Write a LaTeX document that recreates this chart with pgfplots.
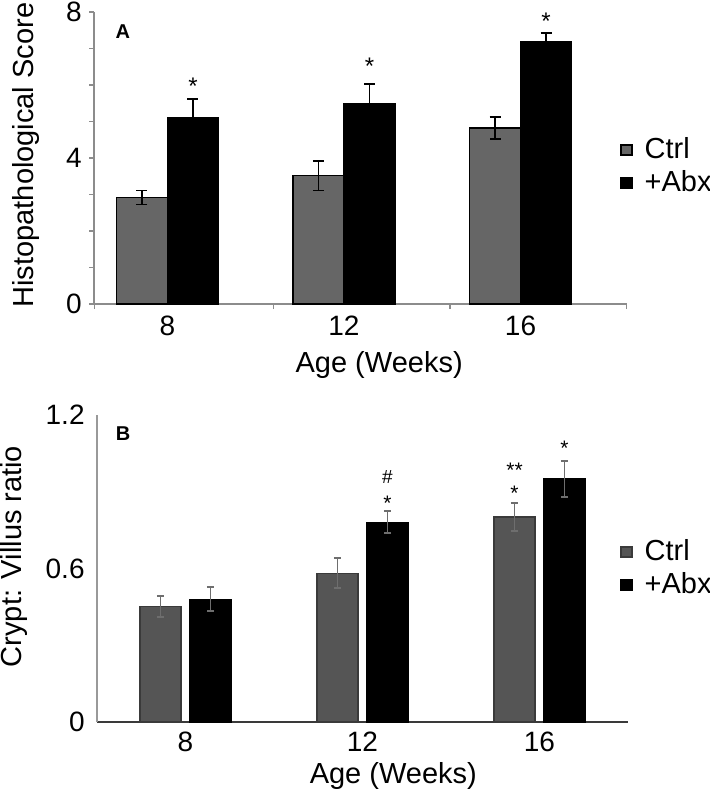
\documentclass[border=0pt]{standalone}
\usepackage{pgfplots}
\pgfplotsset{compat=1.18}
\usepackage{fontspec}
\setmainfont{Liberation Sans}
\definecolor{ctrlA}{HTML}{666666}
\definecolor{ctrlB}{HTML}{555555}
\definecolor{axA}{HTML}{8C8C8C}
\definecolor{axBy}{HTML}{999999}
\definecolor{axBx}{HTML}{3A3A3A}
\definecolor{errB}{HTML}{6E6E6E}
\pgfplotsset{
  sqlegend/.style={legend image code/.code={\draw[##1] (0pt,-2.5pt) rectangle (5.5pt,2.5pt);}},
  common/.style={
    scale only axis, anchor=south west, clip=false,
    axis lines*=left,
    /pgf/number format/assume math mode=true,
    tick label style={font=\fontsize{14}{16}\selectfont},
    label style={font=\fontsize{14.5}{17}\selectfont},
    xtick={0,1,2}, xticklabels={8,12,16},
    legend style={draw=none, fill=none, inner sep=0pt, anchor=west,
      font=\fontsize{14.5}{17}\selectfont, cells={anchor=west}, row sep=2pt,
      nodes={inner sep=1pt, text height=10.5pt, text depth=2pt},
      /tikz/every odd column/.append style={column sep=5pt}},
  },
}
\tikzset{
  starA/.style={font=\fontsize{12}{12}\selectfont, anchor=base, yshift=-6.9pt, inner sep=0pt},
  starB/.style={font=\fontsize{10.5}{11}\selectfont, anchor=base, yshift=-6.1pt, inner sep=0pt},
  hashB/.style={font=\fontsize{9.5}{11}\selectfont, anchor=base, yshift=-3.4pt, inner sep=0pt},
}
\begin{document}
\begin{tikzpicture}
\useasboundingbox (0,0) rectangle (354.5pt,-399.5pt);
% ---------------- Panel A ----------------
\begin{axis}[common,
  at={(47pt,-152pt)}, width=266.5pt, height=146pt,
  xmin=-0.416, xmax=2.603, ymin=0, ymax=8,
  ytick={0,4,8}, minor ytick={1,2,3,5,6,7},
  minor xtick={-0.415,0.6,1.6,2.602},
  tick align=outside, major tick length=2.5pt, minor tick length=2.5pt,
  major x tick style={draw=none},
  tick style={draw=axA, line width=0.6pt},
  axis line style={draw=axA, line width=0.8pt},
  yticklabel style={inner sep=3.5pt},
  xticklabel style={inner sep=3.5pt},
  ylabel={Histopathological Score},
  ylabel style={at={(rel axis cs:-0.1139,0.510)}, anchor=base},
  xlabel={Age (Weeks)},
  xlabel style={at={(rel axis cs:0.535,-0.233)}, anchor=base},
  legend style={at={(rel axis cs:0.987,0.471)}},
]
\addplot[ybar, bar width=0.289, bar shift=0pt, fill=ctrlA, draw=black, line width=0.6pt, sqlegend,
  error bars/.cd, y dir=both, y explicit,
  error bar style={black, line width=0.8pt},
  error mark options={rotate=90, mark size=2.75pt, black, line width=0.8pt}]
  coordinates {(-0.1445,2.92) +- (0,0.19) (0.8555,3.51) +- (0,0.40) (1.8555,4.82) +- (0,0.30)};
\addlegendentry{Ctrl}
\addplot[ybar, bar width=0.289, bar shift=0pt, fill=black, draw=black, line width=0.6pt, sqlegend,
  error bars/.cd, y dir=plus, y explicit,
  error bar style={black, line width=0.8pt},
  error mark options={rotate=90, mark size=2.75pt, black, line width=0.8pt}]
  coordinates {(0.1445,5.11) +- (0,0.51) (1.1445,5.48) +- (0,0.55) (2.1445,7.19) +- (0,0.23)};
\addlegendentry{+Abx}
\node[starA] at (axis cs:0.1445,6.12) {*};
\node[starA] at (axis cs:1.1445,6.66) {*};
\node[starA] at (axis cs:2.1445,7.90) {*};
\node[font=\fontsize{10}{10}\selectfont\bfseries] at (rel axis cs:0.054,0.932) {A};
\end{axis}
% ---------------- Panel B ----------------
\begin{axis}[common,
  at={(48.5pt,-361pt)}, width=265.5pt, height=153.5pt,
  xmin=-0.5, xmax=2.5, ymin=0, ymax=1.2,
  ytick={0,0.6,1.2},
  major tick length=0pt, minor tick length=0pt,
  tick style={draw=none},
  x axis line style={draw=axBx, line width=0.9pt},
  y axis line style={draw=axBy, line width=1pt},
  yticklabel style={inner sep=6pt},
  xticklabel style={inner sep=5pt},
  ylabel={Crypt: Villus ratio},
  ylabel style={at={(rel axis cs:-0.1418,0.539)}, anchor=base},
  xlabel={Age (Weeks)},
  xlabel style={at={(rel axis cs:0.558,-0.199)}, anchor=base},
  legend style={at={(rel axis cs:0.985,0.5)}},
]
\addplot[ybar, bar width=0.2316, bar shift=0pt, fill=ctrlB, draw=axBx, line width=0.6pt, sqlegend,
  error bars/.cd, y dir=both, y explicit,
  error bar style={errB, line width=0.8pt},
  error mark options={rotate=90, mark size=1.8pt, errB, line width=1pt}]
  coordinates {(-0.141,0.451) +- (0,0.040) (0.859,0.582) +- (0,0.058) (1.859,0.801) +- (0,0.056)};
\addlegendentry{Ctrl}
\addplot[ybar, bar width=0.2316, bar shift=0pt, fill=black, draw=black, line width=0.6pt, sqlegend,
  error bars/.cd, y dir=both, y explicit,
  error bar style={errB, line width=0.8pt},
  error mark options={rotate=90, mark size=1.8pt, errB, line width=1pt}]
  coordinates {(0.141,0.480) +- (0,0.048) (1.141,0.780) +- (0,0.043) (2.141,0.951) +- (0,0.071)};
\addlegendentry{+Abx}
\node[starB] at (axis cs:1.141,0.876) {*};
\node[hashB] at (axis cs:1.141,0.960) {\#};
\node[starB] at (axis cs:1.859,0.915) {*};
\node[starB] at (axis cs:1.859,1.003) {**};
\node[starB] at (axis cs:2.141,1.088) {*};
\node[font=\fontsize{10}{10}\selectfont\bfseries] at (rel axis cs:0.049,0.941) {B};
\end{axis}
\end{tikzpicture}
\end{document}
